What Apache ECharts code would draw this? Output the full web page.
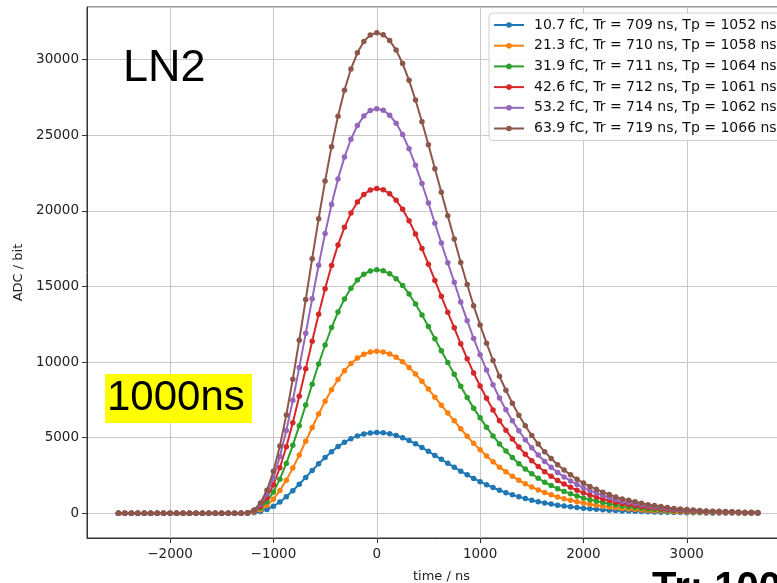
<!DOCTYPE html>
<html>
<head>
    <meta charset="UTF-8">
    <title>LN2 pulse shapes</title>
    <script src="https://cdn.jsdelivr.net/npm/echarts@6/dist/echarts.min.js"></script>
    <style>
        body {
            margin: 0;
            padding: 0;
            background-color: #ffffff;
        }

        #chart {
            width: 777px;
            height: 583px;
        }
    </style>
</head>
<body>
    <div id="chart"></div>

    <script>
        // sample times (ns), 62.5 ns spacing
        const times = [
            -2500, -2437.5, -2375, -2312.5, -2250, -2187.5, -2125, -2062.5, -2000, -1937.5,
            -1875, -1812.5, -1750, -1687.5, -1625, -1562.5, -1500, -1437.5, -1375, -1312.5,
            -1250, -1187.5, -1125, -1062.5, -1000, -937.5, -875, -812.5, -750, -687.5,
            -625, -562.5, -500, -437.5, -375, -312.5, -250, -187.5, -125, -62.5,
            0,
            62.5, 125, 187.5, 250, 312.5, 375, 437.5, 500, 562.5, 625,
            687.5, 750, 812.5, 875, 937.5, 1000, 1062.5, 1125, 1187.5, 1250,
            1312.5, 1375, 1437.5, 1500, 1562.5, 1625, 1687.5, 1750, 1812.5, 1875,
            1937.5, 2000, 2062.5, 2125, 2187.5, 2250, 2312.5, 2375, 2437.5, 2500,
            2562.5, 2625, 2687.5, 2750, 2812.5, 2875, 2937.5, 3000, 3062.5, 3125,
            3187.5, 3250, 3312.5, 3375, 3437.5, 3500, 3562.5, 3625, 3687.5
        ];

        // ADC values per injected charge
        const adc10_7 = [
            0, 0, 0, 0, 0, 0, 0, 0, 0, 0, 0, 0, 0, 0, 0, 0, 0, 0, 0, 0,
            6, 38, 115, 256, 467, 749, 1094, 1490, 1923, 2375,
            2830, 3274, 3692, 4074, 4414, 4701, 4937, 5117, 5244, 5317,
            5340,
            5319, 5255, 5148, 4998, 4811, 4592, 4352, 4096, 3829, 3567,
            3305, 3049, 2787, 2542, 2307, 2093, 1890, 1698, 1522, 1367,
            1223, 1089, 972, 865, 769, 684, 609, 539, 481, 427,
            379, 336, 299, 267, 235, 208, 182, 160, 144, 128,
            112, 96, 85, 75, 64, 53, 48, 43, 37, 32,
            27, 24, 21, 19, 16, 13, 11, 11, 8
        ];
        const adc21_3 = [
            0, 0, 0, 0, 0, 0, 0, 0, 0, 0, 0, 0, 0, 0, 0, 0, 0, 0, 0, 0,
            13, 76, 231, 513, 937, 1502, 2193, 2989, 3857, 4763,
            5676, 6566, 7404, 8172, 8852, 9429, 9901, 10263, 10517, 10663,
            10710,
            10667, 10539, 10324, 10025, 9650, 9211, 8729, 8215, 7679, 7154,
            6629, 6115, 5591, 5098, 4627, 4198, 3791, 3406, 3052, 2742,
            2453, 2185, 1949, 1735, 1542, 1371, 1221, 1082, 964, 857,
            760, 675, 600, 536, 471, 418, 364, 321, 289, 257,
            225, 193, 171, 150, 129, 107, 96, 86, 75, 64,
            54, 48, 43, 37, 32, 27, 21, 21, 16
        ];
        const adc31_9 = [
            0, 0, 0, 0, 0, 0, 0, 0, 0, 0, 0, 0, 0, 0, 0, 0, 0, 0, 0, 0,
            19, 114, 348, 771, 1409, 2257, 3297, 4494, 5798, 7160,
            8533, 9871, 11130, 12284, 13307, 14174, 14884, 15429, 15810, 16029,
            16100,
            16036, 15842, 15520, 15070, 14506, 13846, 13122, 12349, 11544, 10755,
            9966, 9193, 8404, 7664, 6955, 6311, 5699, 5120, 4589, 4122,
            3687, 3284, 2930, 2608, 2318, 2061, 1835, 1626, 1449, 1288,
            1143, 1014, 902, 805, 708, 628, 547, 483, 435, 386,
            338, 290, 258, 225, 193, 161, 145, 129, 113, 97,
            81, 72, 64, 56, 48, 40, 32, 32, 24
        ];
        const adc42_6 = [
            0, 0, 0, 0, 0, 0, 0, 0, 0, 0, 0, 0, 0, 0, 0, 0, 0, 0, 0, 0,
            26, 153, 464, 1029, 1880, 3011, 4399, 5995, 7735, 9552,
            11384, 13169, 14849, 16389, 17753, 18911, 19858, 20584, 21093, 21385,
            21480,
            21394, 21136, 20707, 20105, 19353, 18473, 17506, 16475, 15401, 14349,
            13296, 12265, 11213, 10224, 9279, 8420, 7604, 6831, 6122, 5499,
            4919, 4382, 3909, 3480, 3093, 2749, 2449, 2169, 1933, 1718,
            1525, 1353, 1203, 1074, 945, 838, 730, 644, 580, 516,
            451, 387, 344, 301, 258, 215, 193, 172, 150, 129,
            107, 97, 86, 75, 64, 54, 43, 43, 32
        ];
        const adc53_2 = [
            0, 0, 0, 0, 0, 0, 0, 0, 0, 0, 0, 0, 0, 0, 0, 0, 0, 0, 0, 0,
            32, 190, 578, 1282, 2342, 3752, 5480, 7469, 9636, 11900,
            14183, 16407, 18499, 20418, 22117, 23559, 24740, 25644, 26278, 26642,
            26760,
            26653, 26332, 25797, 25047, 24111, 23014, 21809, 20525, 19187, 17876,
            16564, 15280, 13969, 12738, 11560, 10490, 9473, 8510, 7627, 6851,
            6128, 5459, 4870, 4335, 3853, 3425, 3051, 2703, 2408, 2141,
            1900, 1686, 1499, 1338, 1177, 1044, 910, 803, 723, 642,
            562, 482, 428, 375, 321, 268, 241, 214, 187, 161,
            134, 120, 107, 94, 80, 67, 54, 54, 40
        ];
        const adc63_9 = [
            0, 0, 0, 0, 0, 0, 0, 0, 0, 0, 0, 0, 0, 0, 0, 0, 0, 0, 0, 0,
            38, 226, 686, 1522, 2781, 4456, 6509, 8870, 11444, 14133,
            16843, 19484, 21970, 24248, 26266, 27979, 29381, 30455, 31208, 31640,
            31780,
            31653, 31272, 30636, 29746, 28634, 27331, 25901, 24375, 22786, 21229,
            19672, 18146, 16589, 15127, 13729, 12458, 11250, 10106, 9057, 8136,
            7278, 6483, 5784, 5148, 4576, 4068, 3623, 3210, 2860, 2542,
            2256, 2002, 1780, 1589, 1398, 1239, 1081, 953, 858, 763,
            667, 572, 508, 445, 381, 318, 286, 254, 222, 191,
            159, 143, 127, 111, 95, 79, 64, 64, 48
        ];

        const seriesNames = [
            '10.7 fC, Tr = 709 ns, Tp = 1052 ns',
            '21.3 fC, Tr = 710 ns, Tp = 1058 ns',
            '31.9 fC, Tr = 711 ns, Tp = 1064 ns',
            '42.6 fC, Tr = 712 ns, Tp = 1061 ns',
            '53.2 fC, Tr = 714 ns, Tp = 1062 ns',
            '63.9 fC, Tr = 719 ns, Tp = 1066 ns'
        ];
        const seriesValues = [adc10_7, adc21_3, adc31_9, adc42_6, adc53_2, adc63_9];
        const colors = ['#1f77b4', '#ff7f0e', '#2ca02c', '#d62728', '#9467bd', '#8c564b'];

        const myChart = echarts.init(document.getElementById('chart'));

        const tickFont = 'DejaVu Sans';
        // plain numbers, matplotlib style minus sign
        const plainTick = v => String(v).replace('-', '\u2212');
        // the 4000 tick sits outside the cropped picture
        const xTick = v => (v > 3500 ? '' : plainTick(v));

        const series = seriesValues.map((vals, i) => ({
            name: seriesNames[i],
            type: 'line',
            data: vals.map((v, k) => [times[k], v]),
            symbol: 'circle',
            symbolSize: 5.5,
            showAllSymbol: true,
            lineStyle: { width: 2, color: colors[i] },
            itemStyle: { color: colors[i], borderWidth: 0 },
            emphasis: { disabled: true },
            z: 2 + i
        }));

        const option = {
            animation: false,
            backgroundColor: '#ffffff',
            grid: {
                left: 87,
                top: 7,
                width: 709,
                height: 531,
                show: true,
                borderColor: '#333',
                borderWidth: 1,
                containLabel: false,
                outerBoundsMode: 'none'
            },
            xAxis: {
                type: 'value',
                min: -2804,
                max: 4057,
                splitNumber: 7,
                minInterval: 1000,
                maxInterval: 1000,
                name: 'time / ns',
                nameLocation: 'middle',
                nameGap: 32,
                nameTextStyle: { fontFamily: tickFont, fontSize: 13, color: '#222' },
                axisLine: { show: true, onZero: false, lineStyle: { color: '#333', width: 1 } },
                axisTick: { show: true, length: 5, lineStyle: { color: '#333' } },
                axisLabel: {
                    showMinLabel: false,
                    showMaxLabel: false,
                    margin: 9,
                    fontFamily: tickFont,
                    fontSize: 13.5,
                    color: '#222',
                    formatter: xTick
                },
                splitLine: { show: true, lineStyle: { color: '#c8c8c8', width: 1 } }
            },
            yAxis: {
                type: 'value',
                min: -1634,
                max: 33486,
                splitNumber: 7,
                minInterval: 5000,
                maxInterval: 5000,
                name: 'ADC / bit',
                nameLocation: 'middle',
                nameGap: 56,
                nameTextStyle: { fontFamily: tickFont, fontSize: 13, color: '#222' },
                axisLine: { show: true, onZero: false, lineStyle: { color: '#333', width: 1 } },
                axisTick: { show: true, length: 5, lineStyle: { color: '#333' } },
                axisLabel: {
                    showMinLabel: false,
                    showMaxLabel: false,
                    margin: 8,
                    fontFamily: tickFont,
                    fontSize: 13.5,
                    color: '#222',
                    formatter: plainTick
                },
                splitLine: { show: true, lineStyle: { color: '#c8c8c8', width: 1 } }
            },
            legend: {
                orient: 'vertical',
                left: 489,
                top: 13,
                padding: [5, 8, 5, 4],
                itemWidth: 30,
                itemHeight: 7,
                itemGap: 6.7,
                selectedMode: false,
                backgroundColor: 'rgba(255,255,255,0.85)',
                borderColor: '#d0d0d0',
                borderWidth: 1,
                borderRadius: 4,
                textStyle: {
                    fontFamily: tickFont,
                    fontSize: 14,
                    lineHeight: 14,
                    color: '#111',
                    padding: [0, 0, 0, 5]
                },
                data: seriesNames
            },
            graphic: [
                {
                    type: 'text',
                    left: 123,
                    top: 46,
                    style: {
                        text: 'LN2',
                        font: '45px "Liberation Sans"',
                        fill: '#000'
                    },
                    z: 100
                },
                {
                    type: 'rect',
                    shape: { x: 105, y: 374, width: 147, height: 49 },
                    style: { fill: '#ffff00' },
                    z: 100
                },
                {
                    type: 'text',
                    left: 107,
                    top: 377,
                    style: {
                        text: '1000ns',
                        font: '42px "Liberation Sans"',
                        fill: '#000'
                    },
                    z: 101
                },
                {
                    type: 'text',
                    left: 652,
                    top: 569,
                    style: {
                        text: 'Tr: 1000ns',
                        font: 'bold 40px "Liberation Sans"',
                        fill: '#000'
                    },
                    z: 100
                }
            ],
            series: series
        };

        myChart.setOption(option);
    </script>
</body>
</html>
